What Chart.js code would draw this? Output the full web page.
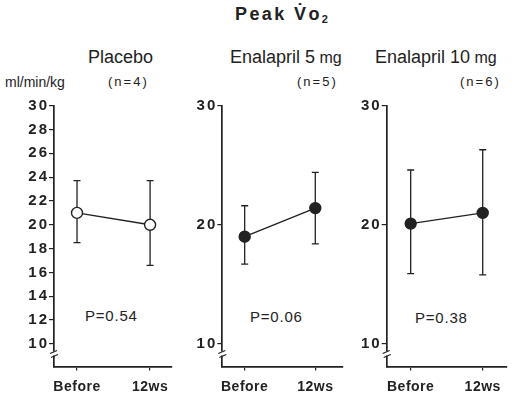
<!DOCTYPE html>
<html><head><meta charset="utf-8">
<script src="https://cdn.jsdelivr.net/npm/chart.js@4.4.1/dist/chart.umd.min.js"></script>
<style>
html,body{margin:0;padding:0;background:#fff;width:519px;height:403px;overflow:hidden;font-family:"Liberation Sans",Arial,sans-serif;color:#222}
.p{position:absolute;top:0;height:403px}
.t{position:absolute;white-space:nowrap;line-height:1}
</style></head><body>
<div class="t" style="left:235px;top:5px;font-size:18px;font-weight:bold;letter-spacing:2.4px">Peak V̇o<span style="font-size:11px;position:relative;top:3px">2</span></div>
<div class="t" style="left:88px;top:48px;font-size:18px">Placebo</div>
<div class="t" style="left:230px;top:48px;font-size:18px">Enalapril 5<span style="font-size:16px"> mg</span></div>
<div class="t" style="left:375px;top:48px;font-size:18px">Enalapril 10<span style="font-size:16px"> mg</span></div>
<div class="t" style="left:5px;top:75px;font-size:14px">ml/min/kg</div>
<div class="t" style="left:108px;top:75px;font-size:13px;letter-spacing:2px">(n=4)</div>
<div class="t" style="left:297px;top:75px;font-size:13px;letter-spacing:2px">(n=5)</div>
<div class="t" style="left:460px;top:75px;font-size:13px;letter-spacing:2px">(n=6)</div>
<div class="t" style="left:85px;top:308px;font-size:15px;letter-spacing:0.8px">P=0.54</div>
<div class="t" style="left:250px;top:309px;font-size:15px;letter-spacing:0.8px">P=0.06</div>
<div class="t" style="left:415px;top:310px;font-size:15px;letter-spacing:0.8px">P=0.38</div>

<div class="p" style="left:0;width:180px"><canvas id="c1"></canvas></div>
<div class="p" style="left:180px;width:170px"><canvas id="c2"></canvas></div>
<div class="p" style="left:350px;width:169px"><canvas id="c3"></canvas></div>
<script>
const categories = ['Before', '12ws'];
const placeboMean = [21.0, 20.0];
const placeboLow  = [18.5, 16.6];
const placeboHigh = [23.7, 23.7];
const enal5Mean = [19.0, 21.4];
const enal5Low  = [16.7, 18.4];
const enal5High = [21.6, 24.4];
const enal10Mean = [20.1, 21.0];
const enal10Low  = [15.9, 15.8];
const enal10High = [24.6, 26.3];
const ticksFine = [10, 12, 14, 16, 18, 20, 22, 24, 26, 28, 30];
const ticksCoarse = [10, 20, 30];

const INK = '#222';

const errPlugin = {
  id: 'err',
  beforeDraw(chart) {
    const ctx = chart.ctx;
    ['x', 'y'].forEach(k => {
      const s = chart.scales[k];
      if (!s._wrapped) {
        const orig = s.drawLabels.bind(s);
        const sp = k === 'y' ? '2px' : '0.5px';
        s.drawLabels = (area) => { ctx.letterSpacing = sp; orig(area); ctx.letterSpacing = '0px'; };
        s._wrapped = true;
      }
    });
  },
  beforeDatasetsDraw(chart, args, opts) {
    const ctx = chart.ctx, xs = chart.scales.x, ys = chart.scales.y;
    ctx.save();
    ctx.strokeStyle = INK; ctx.lineWidth = 1.3;
    opts.mean.forEach((m, i) => {
      const x = xs.getPixelForValue(i);
      const yl = ys.getPixelForValue(opts.low[i]);
      const yh = ys.getPixelForValue(opts.high[i]);
      ctx.beginPath();
      ctx.moveTo(x, yl); ctx.lineTo(x, yh);
      ctx.moveTo(x - 3.5, yl); ctx.lineTo(x + 3.5, yl);
      ctx.moveTo(x - 3.5, yh); ctx.lineTo(x + 3.5, yh);
      ctx.stroke();
    });
    ctx.restore();
  },
  afterDraw(chart) {
    const ctx = chart.ctx, a = chart.chartArea;
    const x = a.left, y0 = a.bottom - 14;
    ctx.save();
    ctx.fillStyle = '#fff';
    ctx.fillRect(x - 2, y0 - 1, 4, 4);
    ctx.strokeStyle = INK; ctx.lineWidth = 1.2;
    ctx.beginPath();
    ctx.moveTo(x - 4, y0 + 1); ctx.lineTo(x + 3, y0 - 2);
    ctx.moveTo(x - 3, y0 + 5); ctx.lineTo(x + 4, y0 + 2);
    ctx.stroke();
    ctx.restore();
  }
};

function make(id, mean, low, high, ticks, open, yw, padR, xmin, xmax) {
  new Chart(document.getElementById(id), {
    type: 'line',
    data: { datasets: [{
      data: mean.map((v, i) => ({ x: i, y: v })),
      borderColor: INK, borderWidth: 1.4,
      pointRadius: 5.5, pointBorderWidth: 1.4,
      pointBackgroundColor: open ? '#fff' : INK, pointBorderColor: INK,
      tension: 0
    }]},
    options: {
      responsive: true, maintainAspectRatio: false, animation: false,
      layout: { padding: { top: 105.7, right: padR, bottom: 0, left: 0 } },
      plugins: { legend: { display: false }, tooltip: { enabled: false },
        err: { mean, low, high } },
      scales: {
        x: { type: 'linear', min: xmin, max: xmax,
          afterBuildTicks: s => { s.ticks = categories.map((c, i) => ({ value: i })); },
          afterFit: s => { s.height = 36.5; },
          ticks: { callback: v => categories[v], color: INK, padding: 8,
            font: { family: 'Liberation Sans', size: 14, weight: 'bold' }, maxRotation: 0, autoSkip: false },
          grid: { drawOnChartArea: false, drawTicks: true, tickLength: 4, color: INK, lineWidth: 1.2 },
          border: { display: true, color: INK, width: 1.7 } },
        y: { type: 'linear', min: 8.1, max: 30,
          afterBuildTicks: s => { s.ticks = ticks.map(v => ({ value: v })); },
          afterFit: s => { s.width = yw; },
          ticks: { color: INK, padding: 0, autoSkip: false,
            font: { family: 'Liberation Sans', size: 15, weight: 'bold' } },
          grid: { drawOnChartArea: false, drawTicks: true, tickLength: 5, color: INK, lineWidth: 1.2 },
          border: { display: true, color: INK, width: 1.7 } }
      }
    },
    plugins: [errPlugin]
  });
}
make('c1', placeboMean, placeboLow, placeboHigh, ticksFine, true, 54, 8, -0.315, 1.3);
make('c2', enal5Mean, enal5Low, enal5High, ticksCoarse, false, 42.3, 7.3, -0.317, 1.388);
make('c3', enal10Mean, enal10Low, enal10High, ticksCoarse, false, 36.7, 12.3, -0.333, 1.333);
</script>
</body></html>
